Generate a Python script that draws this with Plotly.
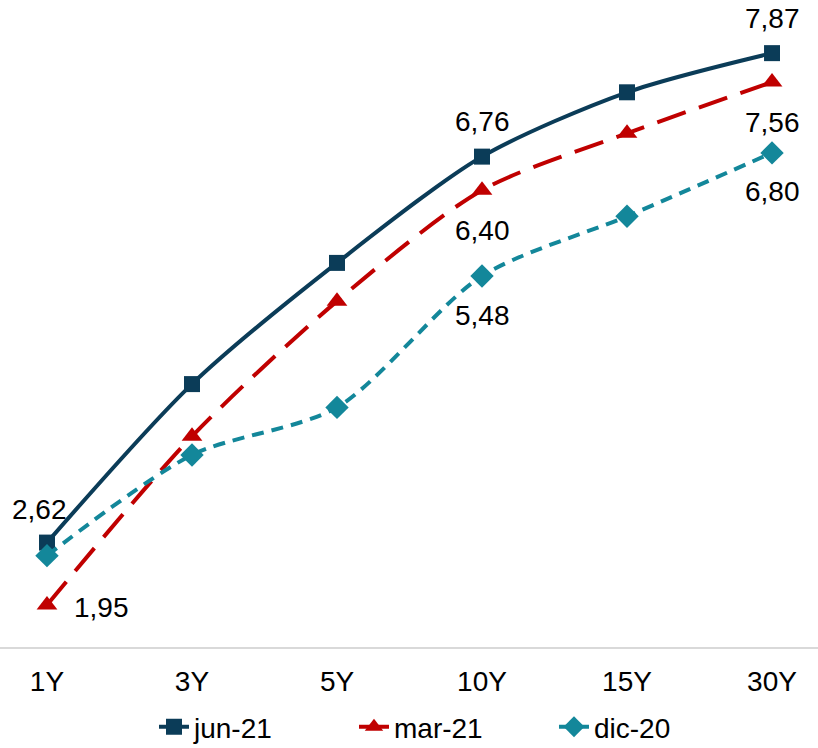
import plotly.graph_objects as go

# Yield curve tenors and rates (%) for three dates
tenors = ["1Y", "3Y", "5Y", "10Y", "15Y", "30Y"]
jun21 = [2.62, 4.32, 5.62, 6.76, 7.45, 7.87]
mar21 = [1.95, 3.76, 5.21, 6.40, 7.01, 7.56]
dic20 = [2.48, 3.56, 4.07, 5.48, 6.12, 6.80]

FONT = "Liberation Sans, Arial, sans-serif"

series = [
    dict(name="jun-21", y=jun21, color="#0B3C58", dash="solid", symbol="square", size=16),
    dict(name="mar-21", y=mar21, color="#C00000", dash="30px,14px", symbol="triangle-up", size=18),
    dict(name="dic-20", y=dic20, color="#13879A", dash="12px,8px", symbol="diamond", size=18),
]

fig = go.Figure()
for s in series:
    fig.add_trace(go.Scatter(
        x=tenors, y=s["y"], name=s["name"], mode="lines+markers",
        line=dict(color=s["color"], width=4, dash=s["dash"], shape="spline", smoothing=0.8),
        marker=dict(symbol=s["symbol"], size=s["size"], color=s["color"]),
    ))

def fmt(v):
    return f"{v:.2f}".replace(".", ",")

# (series values, tenor index, x shift, y shift)
labels = [
    (jun21, 0, -7, 33),
    (mar21, 0, 55, -2),
    (jun21, 3, 0, 35),
    (mar21, 3, 0, -40),
    (dic20, 3, 0, -40),
    (jun21, 5, 0, 35),
    (mar21, 5, 0, -40),
    (dic20, 5, 0, -39),
]
for vals, i, dx, dy in labels:
    fig.add_annotation(
        x=tenors[i], y=vals[i], text=fmt(vals[i]), showarrow=False,
        xshift=dx, yshift=dy,
        font=dict(family=FONT, size=28, color="#000000"),
    )

fig.update_layout(
    width=818, height=748,
    margin=dict(l=0, r=0, t=0, b=101, autoexpand=False),
    paper_bgcolor="white", plot_bgcolor="white",
    font=dict(family=FONT, size=28, color="#000000"),
    showlegend=True,
    legend=dict(
        orientation="h", x=0.555, xanchor="center",
        yref="container", y=0.028, yanchor="middle",
        font=dict(size=28), entrywidth=155, entrywidthmode="pixels",
    ),
    xaxis=dict(
        type="category", range=[-0.324, 5.317],
        showline=True, linecolor="#D9D9D9", linewidth=2,
        showgrid=False, zeroline=False,
        ticks="outside", ticklen=8, tickcolor="rgba(0,0,0,0)",
        tickfont=dict(family=FONT, size=28),
    ),
    yaxis=dict(
        range=[1.5, 8.44], visible=False, showgrid=False, zeroline=False,
    ),
)

fig.write_html("out.html")
